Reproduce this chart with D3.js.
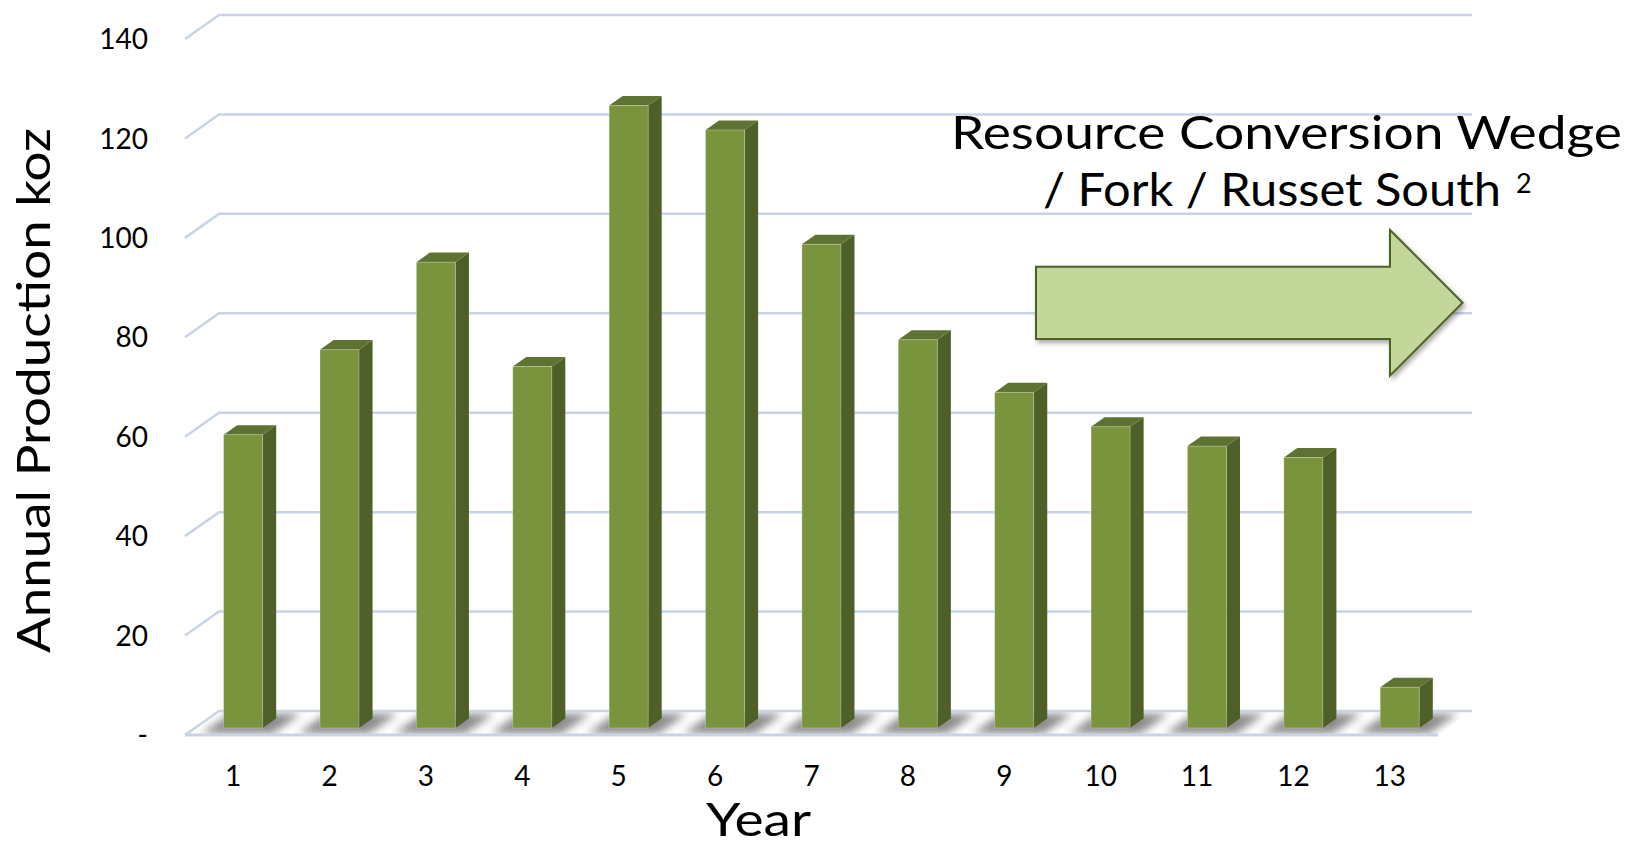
<!DOCTYPE html>
<html><head><meta charset="utf-8">
<script src="https://cdn.jsdelivr.net/npm/d3@7"></script>
<style>body{margin:0;background:#fff}svg{display:block}</style></head>
<body><svg id="c" width="1628" height="845"></svg>
<script>
const years = ["1","2","3","4","5","6","7","8","9","10","11","12","13"];
const production = [59.0, 76.1, 93.7, 72.7, 125.2, 120.3, 97.3, 78.1, 67.5, 60.6, 56.7, 54.4, 8.2];
const yTicks = [0, 20, 40, 60, 80, 100, 120, 140];
const yTickLabels = ["-", "20", "40", "60", "80", "100", "120", "140"];
const calloutLines = ["Resource Conversion Wedge", "/ Fork / Russet South"];
const calloutSup = "2";
const yTitle = "Annual Production koz";
const xTitle = "Year";

const svg = d3.select("#c");
const DX = -34, DY = 24;          // offset from back wall to front edge of floor
const D_FRONT = 0.708, D_BACK = 0.31;
const x = d3.scaleBand().domain(years).range([219, 1472]);
const y = d3.scaleLinear().domain([0, 140]).range([711, 15]);
const bw = x.bandwidth() * 0.405;
const gridColor = "#c8d4e6";
const bigFont = "Lato, 'Open Sans', sans-serif";

const defs = svg.append("defs");
const blur = defs.append("filter").attr("id", "blur").attr("x", "-50%").attr("y", "-50%").attr("width", "200%").attr("height", "200%");
blur.append("feGaussianBlur").attr("stdDeviation", 4);
const ds = defs.append("filter").attr("id", "ds").attr("x", "-10%").attr("y", "-10%").attr("width", "130%").attr("height", "140%");
ds.append("feDropShadow").attr("dx", 2).attr("dy", 3).attr("stdDeviation", 2.5).attr("flood-color", "#000").attr("flood-opacity", 0.35);
const floorPts = [[x.range()[0], y(0)], [x.range()[1], y(0)], [x.range()[1] + DX, y(0) + DY], [x.range()[0] + DX, y(0) + DY]];
defs.append("clipPath").attr("id", "floorClip").append("polygon").attr("points", floorPts.map(p => p.join(",")).join(" "));

// gridlines (back wall + left side slant)
svg.append("g").selectAll("path").data(yTicks.filter(v => v > 0)).join("path")
  .attr("d", v => `M${x.range()[0] + DX},${y(v) + DY}L${x.range()[0]},${y(v)}L${x.range()[1]},${y(v)}`)
  .attr("fill", "none").attr("stroke", gridColor).attr("stroke-width", 2.5);

// floor
svg.append("polygon").attr("points", floorPts.map(p => p.join(",")).join(" ")).attr("fill", "#fff");
const shadowG = svg.append("g").attr("clip-path", "url(#floorClip)");
shadowG.selectAll("polygon").data(years).join("polygon")
  .attr("points", d => {
    const cx = x(d) + x.bandwidth() / 2;
    const l = cx - bw / 2 - 14, r = cx + bw / 2 + 18;
    const pts = [[l + DX * 0.95, y(0) + DY * 0.95], [r + DX * 0.95, y(0) + DY * 0.95], [r + DX * 0.1, y(0) + DY * 0.1], [l + DX * 0.1, y(0) + DY * 0.1]];
    return pts.map(p => p.join(",")).join(" ");
  })
  .attr("fill", "#6f6f6f").attr("opacity", 0.8).attr("filter", "url(#blur)");
svg.append("path").attr("d", `M${floorPts[3][0]},${floorPts[3][1]}L${floorPts[0][0]},${floorPts[0][1]}L${floorPts[1][0]},${floorPts[1][1]}`)
  .attr("fill", "none").attr("stroke", gridColor).attr("stroke-width", 2.5);
svg.append("path").attr("d", `M${floorPts[3][0]},${floorPts[3][1]}L${floorPts[2][0]},${floorPts[2][1]}`)
  .attr("fill", "none").attr("stroke", gridColor).attr("stroke-width", 3);

// bars
const bars = svg.append("g").selectAll("g").data(years.map((d, i) => ({ year: d, v: production[i] }))).join("g");
bars.each(function (d) {
  const g = d3.select(this);
  const cx = x(d.year) + x.bandwidth() / 2;
  const fl = cx - bw / 2 + DX * D_FRONT, fr = fl + bw;
  const ft = y(d.v) + DY * D_FRONT, fb = y(0) + DY * D_FRONT;
  const bl = cx - bw / 2 + DX * D_BACK, br = bl + bw;
  const bt = y(d.v) + DY * D_BACK, bb = y(0) + DY * D_BACK;
  g.append("polygon").attr("points", `${fr},${ft} ${br},${bt} ${br},${bb} ${fr},${fb}`).attr("fill", "#4e5f27");
  g.append("polygon").attr("points", `${fl},${ft} ${fr},${ft} ${br},${bt} ${bl},${bt}`).attr("fill", "#5e7332");
  g.append("rect").attr("x", fl).attr("y", ft).attr("width", bw).attr("height", fb - ft)
    .attr("fill", "#7a933d").attr("stroke", "rgba(255,255,255,0.25)").attr("stroke-width", 1);
});

// y tick labels
svg.append("g").selectAll("text").data(yTicks).join("text")
  .attr("x", 148).attr("y", v => y(v) + DY).attr("dy", "0.36em")
  .attr("text-anchor", "end").attr("font-family", "Lato, sans-serif").attr("font-size", 28).attr("fill", "#000")
  .text((v, i) => yTickLabels[i]);

// x tick labels
svg.append("g").selectAll("text").data(years).join("text")
  .attr("x", d => x(d) + x.bandwidth() / 2 + DX).attr("y", 786)
  .attr("text-anchor", "middle").attr("font-family", "Lato, sans-serif").attr("font-size", 28).attr("fill", "#000")
  .text(d => d);

// arrow
const arrow = [[1036, 266.7], [1390, 266.7], [1390, 230], [1462.6, 302.8], [1390, 375.7], [1390, 339], [1036, 339]];
svg.append("polygon").attr("points", arrow.map(p => p.join(",")).join(" "))
  .attr("fill", "#c4d79b").attr("stroke", "#4f6228").attr("stroke-width", 2).attr("filter", "url(#ds)");

// callout text
svg.append("text").attr("x", 951).attr("y", 149).attr("font-family", bigFont).attr("font-size", 46)
  .attr("textLength", 671).attr("lengthAdjust", "spacingAndGlyphs").attr("fill", "#000").text(calloutLines[0]);
svg.append("text").attr("x", 1043).attr("y", 205.5).attr("font-family", bigFont).attr("font-size", 46)
  .attr("textLength", 458).attr("lengthAdjust", "spacingAndGlyphs").attr("fill", "#000").text(calloutLines[1]);
svg.append("text").attr("x", 1516).attr("y", 193).attr("font-family", bigFont).attr("font-size", 27)
  .attr("fill", "#000").text(calloutSup);

// axis titles
svg.append("text").attr("transform", "translate(50,390.5) rotate(-90)").attr("text-anchor", "middle")
  .attr("font-family", bigFont).attr("font-size", 47).attr("textLength", 525).attr("lengthAdjust", "spacingAndGlyphs")
  .attr("fill", "#000").text(yTitle);
svg.append("text").attr("x", 706).attr("y", 836).attr("font-family", bigFont).attr("font-size", 46)
  .attr("textLength", 105).attr("lengthAdjust", "spacingAndGlyphs").attr("fill", "#000").text(xTitle);
</script></body></html>
